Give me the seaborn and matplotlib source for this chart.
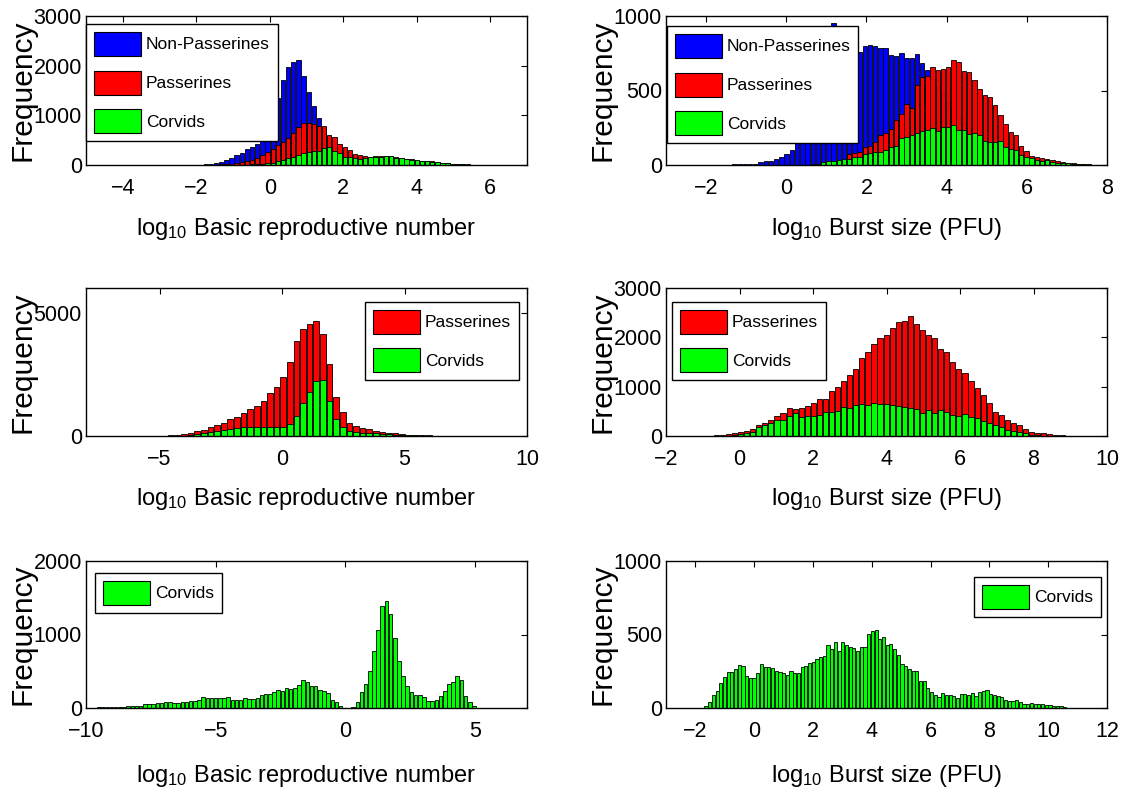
import numpy as np
import pandas as pd
import matplotlib
matplotlib.use("Agg")
import matplotlib.pyplot as plt
import seaborn as sns
from matplotlib.patches import Patch
from matplotlib import font_manager

# ---------------- data ----------------
# Panel 1: log10 R0, all three groups (bins start / width)
P1_START, P1_WIDTH = -2.02, 0.14
p1_nonpass = [5, 8, 12, 20, 35, 55, 110, 140, 200, 250,
              320, 370, 420, 500, 820, 1060, 1340, 1720, 1980, 2070,
              2110, 1790, 1460, 1190, 940, 760, 580, 430, 330, 260,
              200, 160, 130, 110, 95, 85, 75, 65, 55, 45,
              38, 30, 25, 20, 16, 12, 10, 8, 6, 5,
              4, 3, 3, 2, 2, 1, 1, 1, 0, 0, 0]
p1_pass = [0, 2, 3, 5, 8, 12, 20, 30, 40, 60,
           80, 100, 150, 195, 260, 330, 400, 460, 540, 640,
           760, 850, 850, 820, 790, 780, 610, 560, 420, 360,
           310, 230, 205, 190, 170, 178, 183, 190, 178, 160,
           140, 130, 115, 100, 90, 80, 72, 60, 48, 36,
           27, 20, 15, 11, 8, 6, 4, 3, 2, 1, 1]
p1_corv = [0, 0, 0, 0, 1, 2, 3, 4, 6, 8,
           10, 12, 15, 20, 35, 48, 75, 100, 140, 170,
           210, 240, 260, 280, 290, 340, 360, 280, 240, 170,
           155, 136, 130, 140, 155, 155, 170, 177, 175, 150,
           135, 125, 110, 95, 85, 76, 68, 56, 44, 33,
           25, 18, 13, 10, 7, 5, 3, 2, 1, 1, 0]

# Panel 2: log10 burst size, all three groups
P2_START, P2_WIDTH = -1.29, 0.13
p2_nonpass = [5, 7, 6, 8, 10, 18, 24, 27, 40, 55,
              72, 100, 160, 220, 290, 360, 430, 500, 600, 950,
              760, 780, 805, 790, 760, 798, 805, 800, 782, 782,
              737, 730, 755, 715, 715, 744, 685, 640, 580, 530,
              480, 430, 380, 330, 290, 250, 210, 180, 150, 120,
              100, 80, 65, 50, 40, 30, 22, 16, 12, 8,
              6, 4, 3, 2, 1, 1, 0, 0, 0, 0]
p2_pass = [0, 0, 0, 0, 0, 0, 0, 0, 0, 0,
           0, 0, 1, 1, 2, 4, 7, 10, 15, 22,
           29, 40, 74, 79, 85, 119, 130, 153, 198, 213,
           243, 299, 344, 411, 384, 535, 591, 596, 658, 640,
           647, 660, 708, 688, 629, 625, 569, 512, 467, 456,
           400, 333, 276, 220, 198, 130, 97, 63, 56, 50,
           42, 32, 24, 20, 16, 11, 9, 7, 5, 3]
p2_corv = [0, 0, 0, 0, 0, 0, 0, 0, 0, 0,
           0, 0, 0, 0, 2, 6, 10, 18, 25, 29,
           34, 37, 42, 52, 55, 72, 79, 85, 90, 101,
           118, 130, 180, 191, 204, 213, 225, 236, 247, 231,
           258, 258, 267, 236, 236, 209, 213, 198, 164, 153,
           153, 160, 119, 108, 100, 70, 56, 50, 34, 29,
           32, 20, 16, 13, 11, 9, 7, 5, 3, 2]

# Panel 3: log10 R0, passerines and corvids
P3_START, P3_WIDTH = -6.70, 0.27
p3_pass = [0, 0, 1, 1, 2, 3, 5, 10, 25, 50,
           80, 110, 190, 245, 350, 435, 545, 680, 790, 950,
           1090, 1220, 1400, 1740, 1985, 2390, 2990, 3870, 4350, 4525,
           4660, 4145, 2920, 1576, 990, 515, 410, 325, 270, 205,
           165, 135, 110, 80, 55, 40, 30, 22, 16, 11,
           8, 5, 3, 2, 1, 0]
p3_corv = [0, 0, 0, 0, 0, 1, 2, 3, 5, 7,
           10, 40, 70, 110, 150, 190, 245, 270, 325, 355,
           380, 380, 380, 355, 355, 355, 475, 815, 1330, 1800,
           2215, 2280, 1400, 690, 380, 215, 165, 135, 120, 110,
           80, 70, 55, 40, 30, 22, 15, 10, 6, 4,
           2, 1, 0, 0, 0, 0]

# Panel 4: log10 burst size, passerines and corvids
P4_START, P4_WIDTH = -0.795, 0.165
p4_pass = [5, 12, 25, 40, 60, 80, 110, 140, 215, 270,
           320, 415, 465, 560, 555, 565, 615, 660, 760, 750,
           910, 1000, 1110, 1230, 1365, 1590, 1705, 1870, 1985, 2055,
           2185, 2307, 2340, 2430, 2273, 2157, 2048, 1986, 1760, 1693,
           1502, 1365, 1283, 1113, 976, 840, 670, 478, 416, 328,
           273, 225, 137, 82, 68, 55, 34, 20, 14, 10,
           7, 4, 3, 2]
p4_corv = [0, 2, 5, 8, 14, 40, 55, 90, 178, 225,
           260, 315, 330, 415, 465, 395, 415, 415, 430, 478,
           490, 500, 587, 567, 635, 650, 635, 670, 655, 655,
           635, 600, 587, 567, 546, 465, 519, 465, 519, 478,
           430, 410, 450, 395, 362, 295, 260, 225, 190, 123,
           95, 82, 55, 27, 14, 7, 5, 3, 2, 1,
           1, 0, 0, 0]

# Panel 5: log10 R0, corvids
P5_START, P5_WIDTH = -9.50, 0.1606
p5_corv = [9, 9, 9, 9, 14, 14, 18, 23, 23, 27,
           32, 50, 55, 59, 68, 73, 77, 77, 73, 73,
           77, 86, 91, 95, 105, 145, 141, 132, 132, 132,
           136, 145, 114, 109, 109, 132, 123, 127, 136, 182,
           195, 195, 214, 250, 236, 273, 264, 273, 318, 386,
           350, 305, 295, 241, 227, 205, 105, 77, 23, 0,
           3, 9, 77, 214, 332, 500, 782, 1059, 1386, 1454,
           1273, 955, 636, 432, 295, 214, 182, 177, 150, 100,
           100, 109, 159, 227, 332, 350, 432, 386, 168, 77,
           32, 5]

# Panel 6: log10 burst size, corvids
P6_START, P6_WIDTH = -1.64, 0.1258
p6_corv = [11, 38, 90, 113, 170, 208, 242, 242, 265, 290,
           283, 215, 204, 204, 238, 301, 278, 278, 271, 253,
           242, 238, 226, 249, 238, 238, 276, 287, 305, 312,
           333, 346, 355, 430, 403, 452, 385, 446, 430, 418,
           407, 391, 414, 414, 502, 527, 532, 468, 486, 430,
           437, 400, 362, 301, 283, 265, 249, 253, 185, 181,
           136, 106, 90, 75, 102, 90, 90, 84, 68, 97,
           97, 90, 102, 79, 106, 113, 120, 97, 90, 84,
           75, 52, 50, 45, 52, 38, 29, 27, 34, 29,
           27, 27, 18, 23, 11, 11, 11, 9]

COLORS = {"Non-Passerines": "#0000ff", "Passerines": "#ff0000", "Corvids": "#00ff00"}

XLABEL_R0 = r"log$_{10}$ Basic reproductive number"
XLABEL_BS = r"log$_{10}$ Burst size (PFU)"

# ---------------- style ----------------
sns.set_theme(style="white")
names = {f.name for f in font_manager.fontManager.ttflist}
if "Liberation Sans Narrow" in names:
    FONT = "Liberation Sans Narrow"
    TICK_FS, XL_FS, LEG_FS = 16.5, 18.3, 13.8
else:
    FONT = "Liberation Sans"
    TICK_FS, XL_FS, LEG_FS = 15.5, 17, 12.5
plt.rcParams["font.family"] = [FONT, "Liberation Sans", "DejaVu Sans"]
plt.rcParams["mathtext.fontset"] = "custom"
plt.rcParams["mathtext.rm"] = FONT
plt.rcParams["mathtext.it"] = FONT
plt.rcParams["mathtext.default"] = "regular"

fig = plt.figure(figsize=(11.3, 8.02), dpi=100)

COL_L = [86 / 1130, 666 / 1130]
COL_W = 441 / 1130
ROWS = [(16, 165), (288, 436), (561, 708)]


def make_ax(row, col):
    top, bot = ROWS[row]
    return fig.add_axes([COL_L[col], (802 - bot) / 802, COL_W, (bot - top) / 802])


def draw(ax, start, width, series, xlim, xticks, ylim, yticks, xlabel,
         loc, anchor, label_y):
    for name, counts in series:
        counts = np.asarray(counts, dtype=float)
        centers = start + width * np.arange(len(counts))
        df = pd.DataFrame({"x": centers, "count": counts})
        lo = float(centers[0] - width / 2)
        hi = float(centers[-1] + width / 2)
        sns.histplot(data=df, x="x", weights="count", binwidth=width,
                     binrange=(lo, hi), color=COLORS[name],
                     edgecolor="black", linewidth=0.6, alpha=1.0, shrink=0.85,
                     ax=ax, legend=False)
    ax.set_xlim(*xlim)
    ax.set_ylim(*ylim)
    ax.set_xticks(xticks)
    ax.set_yticks(yticks)
    ax.tick_params(direction="in", top=True, right=True, length=4.5, width=0.8,
                   color="black", labelsize=TICK_FS, labelcolor="black")
    ax.tick_params(axis="x", pad=9.5)
    ax.tick_params(axis="y", pad=3)
    for s in ax.spines.values():
        s.set_visible(True)
        s.set_color("black")
        s.set_linewidth(1.0)
    ax.set_xlabel(xlabel, fontsize=XL_FS, color="black", va="baseline")
    ax.xaxis.set_label_coords(0.5, label_y)
    ax.set_ylabel("Frequency", fontsize=21.5, color="black",
                  family=["Liberation Sans", "DejaVu Sans"])
    ax.yaxis.set_label_coords(-0.112, 0.5)
    handles = [Patch(facecolor=COLORS[n], edgecolor="black", linewidth=0.8, label=n)
               for n, _ in series]
    leg = ax.legend(handles=handles, loc=loc, bbox_to_anchor=anchor,
                    borderaxespad=0, fancybox=False, edgecolor="black",
                    framealpha=1, fontsize=LEG_FS, handlelength=2.7,
                    handleheight=1.75, labelspacing=0.85, handletextpad=0.3,
                    borderpad=0.45)
    leg.get_frame().set_linewidth(1.0)
    for t in leg.get_texts():
        t.set_color("black")


ax1 = make_ax(0, 0)
draw(ax1, P1_START, P1_WIDTH,
     [("Non-Passerines", p1_nonpass), ("Passerines", p1_pass), ("Corvids", p1_corv)],
     (-5, 7), [-4, -2, 0, 2, 4, 6], (0, 3000), [0, 1000, 2000, 3000], XLABEL_R0,
     "upper left", (0.0, 0.946), -0.47)

ax2 = make_ax(0, 1)
draw(ax2, P2_START, P2_WIDTH,
     [("Non-Passerines", p2_nonpass), ("Passerines", p2_pass), ("Corvids", p2_corv)],
     (-3, 8), [-2, 0, 2, 4, 6, 8], (0, 1000), [0, 500, 1000], XLABEL_BS,
     "upper left", (0.002, 0.933), -0.47)

ax3 = make_ax(1, 0)
draw(ax3, P3_START, P3_WIDTH,
     [("Passerines", p3_pass), ("Corvids", p3_corv)],
     (-8, 10), [-5, 0, 5, 10], (0, 6000), [0, 5000], XLABEL_R0,
     "upper right", (0.982, 0.906), -0.465)

ax4 = make_ax(1, 1)
draw(ax4, P4_START, P4_WIDTH,
     [("Passerines", p4_pass), ("Corvids", p4_corv)],
     (-2, 10), [-2, 0, 2, 4, 6, 8, 10], (0, 3000), [0, 1000, 2000, 3000], XLABEL_BS,
     "upper left", (0.0136, 0.906), -0.465)

ax5 = make_ax(2, 0)
draw(ax5, P5_START, P5_WIDTH,
     [("Corvids", p5_corv)],
     (-10, 7), [-10, -5, 0, 5], (0, 2000), [0, 1000, 2000], XLABEL_R0,
     "upper left", (0.0204, 0.919), -0.505)

ax6 = make_ax(2, 1)
draw(ax6, P6_START, P6_WIDTH,
     [("Corvids", p6_corv)],
     (-3, 12), [-2, 0, 2, 4, 6, 8, 10, 12], (0, 1000), [0, 500, 1000], XLABEL_BS,
     "upper right", (0.986, 0.892), -0.505)

fig.savefig("out.png", dpi=100)
